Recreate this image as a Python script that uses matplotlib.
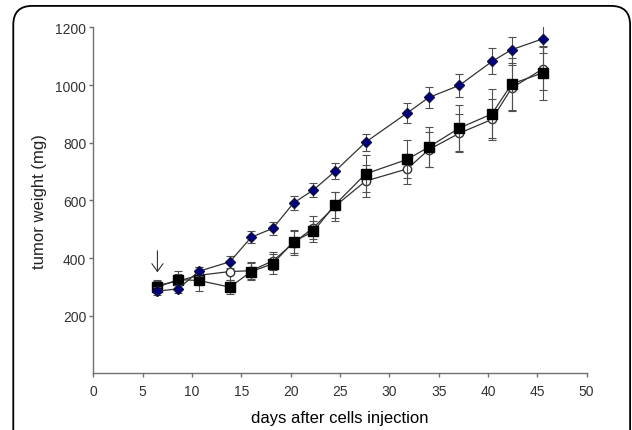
import matplotlib
matplotlib.use("Agg")
import matplotlib.pyplot as plt
from matplotlib.patches import FancyBboxPatch

plt.rcParams['font.family'] = ['Liberation Sans', 'DejaVu Sans']

# days after injection
days = [6.5, 8.6, 10.7, 13.85, 16.0, 18.2, 20.3, 22.3, 24.5, 27.6, 31.8, 34.0, 37.1, 40.4, 42.4, 45.6]

# blue diamonds
blue = [285, 293, 354, 387, 472, 503, 591, 636, 701, 802, 903, 957, 999, 1082, 1123, 1161]
blue_err = [15, 15, 15, 20, 20, 22, 25, 25, 28, 30, 35, 35, 40, 45, 45, 48]

# open circles
circ = [305, 320, 340, 353, 356, 390, 452, 505, 580, 667, 709, 776, 833, 881, 990, 1057]
circ_err = [20, 25, 30, 30, 30, 30, 40, 40, 50, 55, 52, 60, 65, 70, 80, 75]

# black squares
sq = [299, 325, 322, 299, 353, 380, 457, 492, 585, 692, 742, 785, 851, 900, 1004, 1043]
sq_err = [20, 30, 35, 25, 30, 35, 40, 35, 45, 64, 66, 70, 80, 85, 90, 94]

fig = plt.figure(figsize=(6.32, 4.31), dpi=100)
ax = fig.add_axes([0.1476, 0.1316, 0.7807, 0.8024])

# rounded frame around the figure
frame = FancyBboxPatch((0.021, -0.1), 0.976, 1.084, boxstyle="round,pad=0,rounding_size=0.03",
                       transform=fig.transFigure, fill=False, edgecolor='black', linewidth=1.3,
                       mutation_aspect=632/431, clip_on=False)
fig.patches.append(frame)

ebkw = dict(ecolor='#505050', elinewidth=0.8, capsize=3, capthick=0.8)
ax.errorbar(days, circ, yerr=circ_err, color='#333333', lw=0.9, marker='o', ms=6,
            mfc='white', mec='#333333', zorder=3, **ebkw)
ax.errorbar(days, sq, yerr=sq_err, color='#333333', lw=0.9, marker='s', ms=7,
            mfc='black', mec='black', zorder=4, **ebkw)
ax.errorbar(days, blue, yerr=blue_err, color='#333333', lw=0.9, marker='D', ms=5,
            mfc='#000080', mec='#101040', zorder=5, **ebkw)

ax.annotate('', xy=(days[0], 350), xytext=(days[0], 425),
            arrowprops=dict(arrowstyle='->,head_length=0.35,head_width=0.25', color='#333333',
                            lw=0.8, mutation_scale=16, shrinkA=0, shrinkB=0))

ax.set_xlim(0, 50)
ax.set_ylim(0, 1200)
ax.set_xticks(range(0, 51, 5))
ax.set_yticks(range(200, 1201, 200))
for s in ['top', 'right']:
    ax.spines[s].set_visible(False)
for s in ['left', 'bottom']:
    ax.spines[s].set_color('#707070')
    ax.spines[s].set_linewidth(1.0)
ax.tick_params(direction='out', length=3, width=1, colors='#707070', labelcolor='#333333',
               labelsize=10)
ax.tick_params(axis='x', pad=5)
ax.tick_params(axis='y', pad=2)

ax.set_xlabel('days after cells injection', fontsize=12, color='black', labelpad=8)
ax.set_ylabel('tumor weight (mg)', fontsize=12, color='#222222', labelpad=6)

fig.savefig('out.png', dpi=100)
